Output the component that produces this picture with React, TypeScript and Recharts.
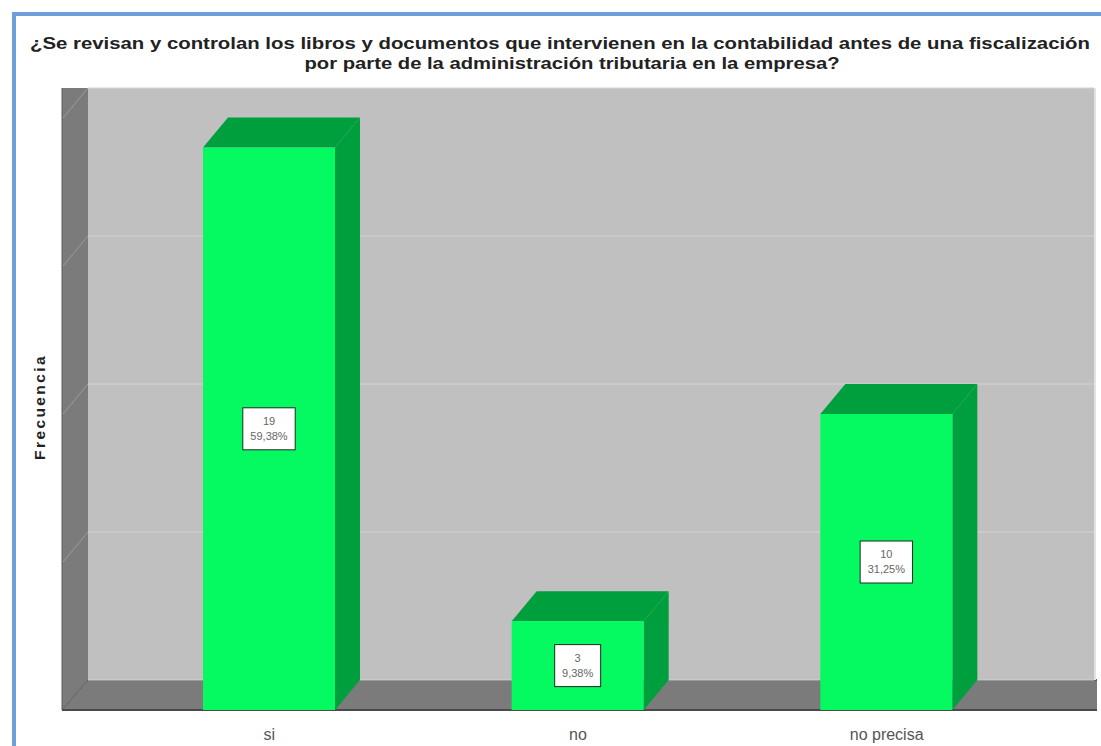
import React from 'react'
import { Bar, BarChart, CartesianGrid, LabelList, XAxis, YAxis } from 'recharts'

// valores
const categories = ['si', 'no', 'no precisa']
const frequencies = [19, 3, 10]
const percentLabels = ['59,38%', '9,38%', '31,25%']
const gridTicks = [5, 10, 15]

const data = categories.map((cat, i) => ({ cat, freq: frequencies[i], pct: percentLabels[i] }))

const W = 1101
const H = 746
// pared del fondo = área de trazado de recharts
const LEFT = 88
const TOP = 88
const RIGHT = 1094
const BOTTOM = 680
// desplazamiento de la cara frontal (profundidad 3D)
const DX = 25
const DY = 30

const FRONT = '#05fa62'
const SIDE = '#009f3e'
const WALL = '#7b7b7b'
const FONT = '"Liberation Sans", Arial, sans-serif'

function Bar3D({ x, y, width, height }: any) {
  if (!height || height <= 0) return null
  const fx = x - DX
  const fy = y + DY
  return (
    <g>
      <polygon points={`${fx},${fy} ${x},${y} ${x + width},${y} ${fx + width},${fy}`} fill={SIDE} />
      <polygon
        points={`${fx + width},${fy} ${x + width},${y} ${x + width},${y + height} ${fx + width},${fy + height}`}
        fill={SIDE}
      />
      <rect x={fx} y={fy} width={width} height={height} fill={FRONT} />
    </g>
  )
}

function ValueBox({ x, y, width, height, index }: any) {
  const cx = x - DX + width / 2
  const cy = y + DY + height / 2
  const pct = percentLabels[index]
  const bw = pct.length * 6.4 + 14
  const bh = 42
  return (
    <g>
      <rect x={cx - bw / 2} y={cy - bh / 2} width={bw} height={bh} fill="#fff" stroke="#1d2b1d" strokeWidth={1} />
      <text x={cx} y={cy - 4} textAnchor="middle" fontFamily={FONT} fontSize={11} fill="#666">
        {frequencies[index]}
      </text>
      <text x={cx} y={cy + 11} textAnchor="middle" fontFamily={FONT} fontSize={11} fill="#666">
        {pct}
      </text>
    </g>
  )
}

function CatTick({ x, payload }: any) {
  return (
    <text x={x - DX} y={BOTTOM + 60} textAnchor="middle" fontFamily={FONT} fontSize={16} fill="#555">
      {payload.value}
    </text>
  )
}

function Backdrop() {
  const span = BOTTOM - TOP
  const gridY = [TOP, ...gridTicks.map((t) => BOTTOM - (t / 20) * span)]
  return (
    <svg width={W} height={H} style={{ position: 'absolute', left: 0, top: 0 }}>
      <rect x={0} y={0} width={W} height={H} fill="#fff" />
      <rect x={12} y={12} width={W - 12} height={4} fill="#6e9fd9" />
      <rect x={12} y={12} width={4} height={H - 12} fill="#6e9fd9" />
      <text
        x={560}
        y={49}
        textAnchor="middle"
        fontFamily={FONT}
        fontWeight="bold"
        fontSize={16.5}
        fill="#222"
        textLength={1060}
        lengthAdjust="spacingAndGlyphs"
      >
        ¿Se revisan y controlan los libros y documentos que intervienen en la contabilidad antes de una fiscalización
      </text>
      <text
        x={572}
        y={69}
        textAnchor="middle"
        fontFamily={FONT}
        fontWeight="bold"
        fontSize={16.5}
        fill="#222"
        textLength={535}
        lengthAdjust="spacingAndGlyphs"
      >
        por parte de la administración tributaria en la empresa?
      </text>
      {/* pared izquierda */}
      <polygon points={`${LEFT - DX - 1},${TOP} ${LEFT},${TOP} ${LEFT},${BOTTOM} ${LEFT - DX - 1},${BOTTOM + DY}`} fill={WALL} />
      {gridY.map((gy, i) => (
        <line key={i} x1={LEFT} y1={gy} x2={LEFT - DX} y2={gy + DY} stroke="#fff" strokeOpacity={0.25} />
      ))}
      <line x1={LEFT - DX - 1} y1={TOP} x2={LEFT - DX - 1} y2={BOTTOM + DY} stroke="#5a5a5a" />
      {/* suelo */}
      <polygon
        points={`${LEFT},${BOTTOM} ${RIGHT + 3},${BOTTOM} ${RIGHT + 3},${BOTTOM + DY} ${LEFT - DX - 1},${BOTTOM + DY}`}
        fill={WALL}
      />
      <line x1={LEFT} y1={BOTTOM} x2={RIGHT + 3} y2={BOTTOM} stroke="#5e5e5e" strokeWidth={2} />
      <line x1={LEFT - DX - 1} y1={BOTTOM + DY} x2={RIGHT + 3} y2={BOTTOM + DY} stroke="#4a4a4a" strokeWidth={2} />
      <line x1={LEFT} y1={BOTTOM} x2={LEFT - DX - 1} y2={BOTTOM + DY} stroke="#5e5e5e" />
      <line x1={RIGHT + 1} y1={TOP} x2={RIGHT + 1} y2={BOTTOM} stroke="#dde3ea" strokeWidth={2} />
      <text
        transform={`translate(45, 407) rotate(-90)`}
        textAnchor="middle"
        fontFamily={FONT}
        fontWeight="bold"
        fontSize={15.5}
        letterSpacing={2.4}
        fill="#222"
      >
        Frecuencia
      </text>
    </svg>
  )
}

export default function App() {
  return (
    <div style={{ position: 'absolute', left: 0, top: 0, width: W, height: H, background: '#fff' }}>
      <Backdrop />
      <div style={{ position: 'absolute', left: 0, top: 0 }}>
        <BarChart
          width={W}
          height={H}
          data={data}
          margin={{ top: TOP, right: W - RIGHT, bottom: 0, left: LEFT }}
        >
          <CartesianGrid vertical={false} fill="#c0c0c0" fillOpacity={1} stroke="#d3d3d3" />
          <XAxis
            dataKey="cat"
            height={H - BOTTOM}
            padding={{ left: 52, right: 28 }}
            axisLine={false}
            tickLine={false}
            tick={<CatTick />}
          />
          <YAxis hide width={0} domain={[0, 20]} ticks={gridTicks} />
          <Bar dataKey="freq" barSize={132} shape={<Bar3D />} isAnimationActive={false}>
            <LabelList dataKey="freq" content={<ValueBox />} />
          </Bar>
        </BarChart>
      </div>
    </div>
  )
}
